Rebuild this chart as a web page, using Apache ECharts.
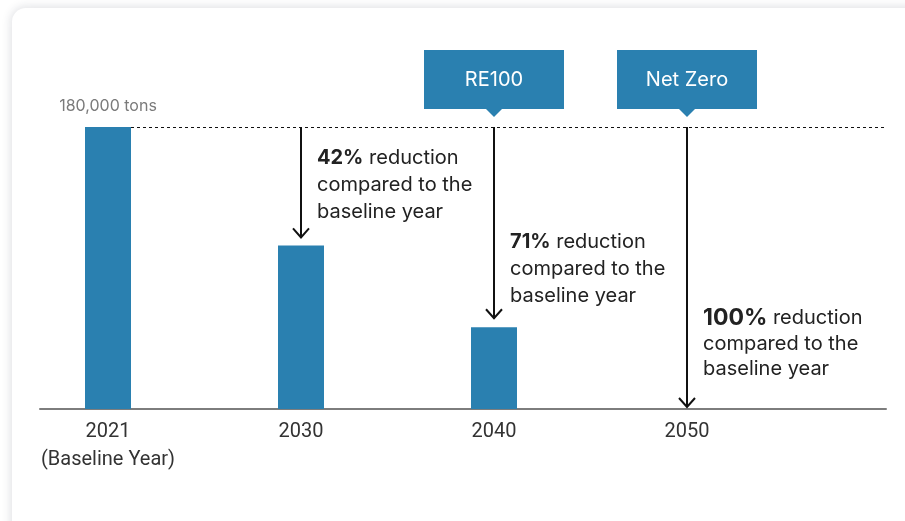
<!DOCTYPE html>
<html>
<head>
<meta charset="utf-8">
<script src="https://cdn.jsdelivr.net/npm/echarts@6/dist/echarts.min.js"></script>
<style>
  html, body { margin: 0; padding: 0; background: #fff; width: 905px; height: 521px; overflow: hidden; }
  #card {
    position: absolute; left: 12px; top: 8px; width: 980px; height: 600px;
    border-radius: 14px; background: #fff;
    box-shadow: 0 0 8px 2px rgba(40, 50, 70, 0.13);
  }
  #chart { position: absolute; left: 0; top: 0; width: 905px; height: 521px; }
</style>
</head>
<body>
<div id="card"></div>
<div id="chart"></div>
<script>
// Greenhouse-gas emission roadmap
const years = ['2021', '2030', '2040', '2050'];
const yearNotes = ['(Baseline Year)', '', '', ''];
const emissions = [180000, 104400, 52200, 0];   // tons
const reductions = [0, 42, 71, 100];            // % vs. baseline
const milestones = ['', '', 'RE100', 'Net Zero'];
const unit = 'tons';

// drawing styles
const BLUE = '#2a80b0';
const BAR_W = 46;
const TEXT_FONT = 'Inter, "Noto Sans", sans-serif';
const arrowGap = [0, 8, 9, 2];       // space between arrow tip and bar top
const noteGap = [0, 20, 18, 27];     // space between note text and bar top

const chart = echarts.init(document.getElementById('chart'), null, { renderer: 'canvas' });

function renderItem(params, api) {
  const i = api.value(0);
  const base = api.coord([i, emissions[0]]);
  const top = api.coord([i, api.value(1)]);
  const cs = params.coordSys;
  const x = base[0];
  const children = [];

  if (i === 0) {
    // baseline reference line
    children.push({
      type: 'line',
      shape: { x1: x + BAR_W / 2, y1: base[1] + 0.5, x2: cs.x + cs.width, y2: base[1] + 0.5 },
      style: { stroke: '#111', lineWidth: 1, lineDash: [3, 3] }
    });
    children.push({
      type: 'text',
      style: {
        text: emissions[0].toLocaleString('en-US') + ' ' + unit,
        x: x, y: base[1] - 13,
        align: 'center', verticalAlign: 'bottom',
        fill: '#7a7a7a', fontSize: 16, fontFamily: TEXT_FONT
      }
    });
    return { type: 'group', children };
  }

  const tipY = top[1] - arrowGap[i];
  children.push({
    type: 'line',
    shape: { x1: x, y1: base[1], x2: x, y2: tipY },
    style: { stroke: '#111', lineWidth: 2 }
  });
  children.push({
    type: 'polyline',
    shape: { points: [[x - 8, tipY - 9], [x, tipY], [x + 8, tipY - 9]] },
    style: { stroke: '#111', lineWidth: 2, fill: null }
  });

  const big = api.value(2) >= 100;
  children.push({
    type: 'text',
    style: {
      text: '{b|' + api.value(2) + '%} reduction\ncompared to the\nbaseline year',
      x: x + 16, y: top[1] - noteGap[i],
      align: 'left', verticalAlign: 'bottom',
      fill: '#222', fontSize: 20, fontFamily: TEXT_FONT,
      lineHeight: big ? 25.5 : 27,
      rich: {
        b: { fontSize: big ? 23 : 20, fontWeight: 'bold', fill: '#222', fontFamily: TEXT_FONT, lineHeight: big ? 25.5 : 27 }
      }
    }
  });

  const tag = milestones[i];
  if (tag) {
    const boxTop = 50, boxH = 59, boxW = 140;
    children.push({
      type: 'rect',
      shape: { x: x - boxW / 2, y: boxTop, width: boxW, height: boxH },
      style: { fill: BLUE }
    });
    children.push({
      type: 'polygon',
      shape: { points: [[x - 8, boxTop + boxH], [x + 8, boxTop + boxH], [x, boxTop + boxH + 8]] },
      style: { fill: BLUE }
    });
    children.push({
      type: 'text',
      style: {
        text: tag, x: x, y: boxTop + boxH / 2,
        align: 'center', verticalAlign: 'middle',
        fill: '#fff', fontSize: 20, fontFamily: TEXT_FONT
      }
    });
  }
  return { type: 'group', children };
}

const option = {
  animation: false,
  grid: { left: 40, right: 19, top: 127, bottom: 112 },
  xAxis: {
    type: 'value',
    min: -68 / 193,
    max: 3 + 199 / 193,
    splitLine: { show: false },
    axisTick: { show: false },
    axisLine: { show: true, lineStyle: { color: '#7d7d7d', width: 2 } },
    axisLabel: {
      customValues: years.map((_, i) => i),
      formatter: v => years[v] + (yearNotes[v] ? '\n' + yearNotes[v] : ''),
      color: '#333', fontSize: 20, fontFamily: 'Roboto, sans-serif',
      lineHeight: 28, margin: 9
    }
  },
  yAxis: { type: 'value', min: 0, max: emissions[0], show: false },
  series: [
    {
      type: 'custom',
      z: 1,
      clip: false,
      renderItem: renderItem,
      data: years.map((_, i) => [i, emissions[i], reductions[i]])
    },
    {
      type: 'bar',
      z: 2,
      barWidth: BAR_W,
      itemStyle: { color: BLUE },
      data: years.map((_, i) => [i, emissions[i]])
    }
  ]
};

chart.setOption(option);
</script>
</body>
</html>
